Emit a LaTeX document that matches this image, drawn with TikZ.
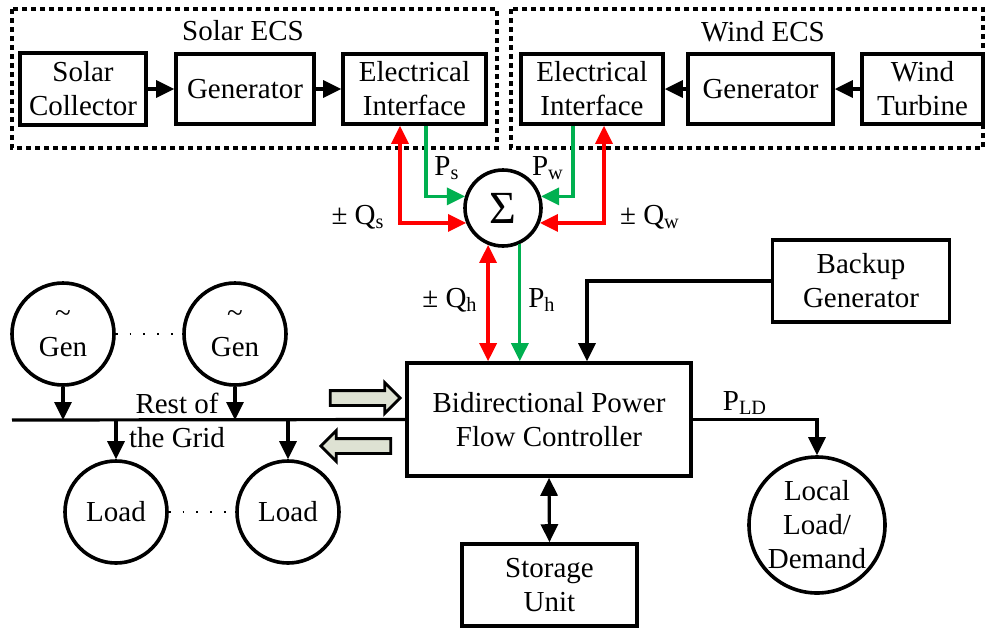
\documentclass[tikz,border=0pt]{standalone}
\usepackage{fontspec}
\setmainfont{Liberation Serif}
\usepackage{xcolor}
\usepackage{tikz}
\usetikzlibrary{arrows.meta,positioning,calc,shapes.arrows}

\definecolor{qred}{RGB}{255,0,0}
\definecolor{pgreen}{RGB}{0,176,80}
\definecolor{flowfill}{RGB}{222,226,211}

\tikzset{
  blk/.style={draw, line width=1.8pt, align=center, inner sep=2pt},
  circ/.style={draw, circle, line width=1.8pt, align=center, inner sep=0pt},
  grp/.style={draw, line width=1.7pt, dash pattern=on 2.5pt off 2pt},
  arr/.style={line width=1.6pt, -{Triangle[length=9pt,width=8.5pt]}},
  arrr/.style={line width=1.6pt, {Triangle[length=9pt,width=8.5pt]}-{Triangle[length=9pt,width=8.5pt]}},
  pline/.style={arr, draw=pgreen},
  qline/.style={arrr, draw=qred},
  dots/.style={line width=1.1pt, dash pattern=on 0.9pt off 6pt},
  flow/.style={single arrow, draw, line width=1.4pt, fill=flowfill, inner sep=3pt,
    minimum width=14pt, minimum height=35pt, single arrow head extend=4pt},
  lbl/.style={inner sep=0pt}
}

\begin{document}
\begin{tikzpicture}[x=0.5pt, y=-0.5pt, font=\fontsize{14.5}{17}\selectfont]
  \useasboundingbox (0,0) rectangle (985,628);

  % Solar ECS
  \draw[grp] (12,9) rectangle (497,148);
  \node[lbl] (solarT) at (243,31) {Solar ECS};
  \node[blk, minimum width=63pt, minimum height=36pt] (sc) at (83,89) {Solar\\Collector};
  \node[blk, minimum width=69pt, minimum height=35pt] (sgen) at (245,89) {Generator};
  \node[blk, minimum width=71.5pt, minimum height=35pt] (sei) at (414.5,89) {Electrical\\Interface};
  \draw[arr] (sc) -- (sgen);
  \draw[arr] (sgen) -- (sei);

  % Wind ECS
  \draw[grp] (511,9) rectangle (983,148);
  \node[lbl] (windT) at (763,32) {Wind ECS};
  \node[blk, minimum width=71pt, minimum height=35pt] (wei) at (592,89) {Electrical\\Interface};
  \node[blk, minimum width=72.5pt, minimum height=35pt] (wgen) at (760.5,89) {Generator};
  \node[blk, minimum width=60.5pt, minimum height=35pt] (wt) at (922.5,89) {Wind\\Turbine};
  \draw[arr] (wt) -- (wgen);
  \draw[arr] (wgen) -- (wei);

  % Summing junction
  \node[circ, minimum size=38pt, font=\fontsize{23}{24}\selectfont] (sum) at (503,208) {Σ};
  \draw[pline] ($(sei.south)+(11.5,0)$) |- (sum.163);
  \draw[qline] ($(sei.south)+(-14.5,0)$) |- (sum.202);
  \draw[pline] ($(wei.south)+(-19,0)$) |- (sum.17);
  \draw[qline] ($(wei.south)+(12,0)$) |- (sum.-22);
  \node[lbl] (psT) at (447,168) {P\textsubscript{s}};
  \node[lbl] (pwT) at (548,168) {P\textsubscript{w}};
  \node[lbl] (qsT) at (358,217) {± Q\textsubscript{s}};
  \node[lbl] (qwT) at (650,217) {± Q\textsubscript{w}};

  % Controller
  \node[blk, minimum width=142pt, minimum height=56.5pt] (bpfc) at (549,419.5) {Bidirectional Power\\Flow Controller};
  \node[blk, minimum width=88.5pt, minimum height=41pt] (bkp) at (861,281) {Backup\\Generator};
  \node[blk, minimum width=87.5pt, minimum height=41pt] (stor) at (549.5,585) {Storage\\Unit};
  \node[circ, minimum size=68pt] (ld) at (817,525) {Local\\Load/\\Demand};
  \draw[qline] (sum.248) -- (sum.248 |- bpfc.north);
  \draw[pline] (sum.295) -- (sum.295 |- bpfc.north);
  \node[lbl] (qhT) at (450,300) {± Q\textsubscript{h}};
  \node[lbl] (phT) at (542,300) {P\textsubscript{h}};
  \draw[arr] (bkp.west) -| ($(bpfc.north)+(38,0)$);
  \draw[arrr] (bpfc.south) -- (stor.north);
  \draw[arr] (bpfc.east) -| (ld.north);
  \node[lbl] (pldT) at (745,403) {P\textsubscript{LD}};

  % Rest of the grid
  \coordinate (busL) at (12,420);
  \draw[line width=1.6pt] (busL) -- (bpfc.west);
  \node[circ, minimum size=51pt] (g1) at (63,334) {\textasciitilde\\Gen};
  \node[circ, minimum size=51pt] (g2) at (235,334) {\textasciitilde\\Gen};
  \node[circ, minimum size=51pt] (l1) at (116,512) {Load};
  \node[circ, minimum size=51pt] (l2) at (288,512) {Load};
  \draw[dots] (g1.east) -- (g2.west);
  \draw[dots] (l1.east) -- (l2.west);
  \draw[arr] (g1.south) -- (g1.south |- busL);
  \draw[arr] (g2.south) -- (g2.south |- busL);
  \draw[arr] (l1.north |- busL) -- (l1.north);
  \draw[arr] (l2.north |- busL) -- (l2.north);
  \node[lbl] (restT) at (177,403) {Rest of};
  \node[lbl] (gridT) at (177,438) {the Grid};
  \node[flow] (fwd) at (361.5,398) {};
  \node[flow, shape border rotate=180] (bwd) at (359.5,446) {};
\end{tikzpicture}
\end{document}
